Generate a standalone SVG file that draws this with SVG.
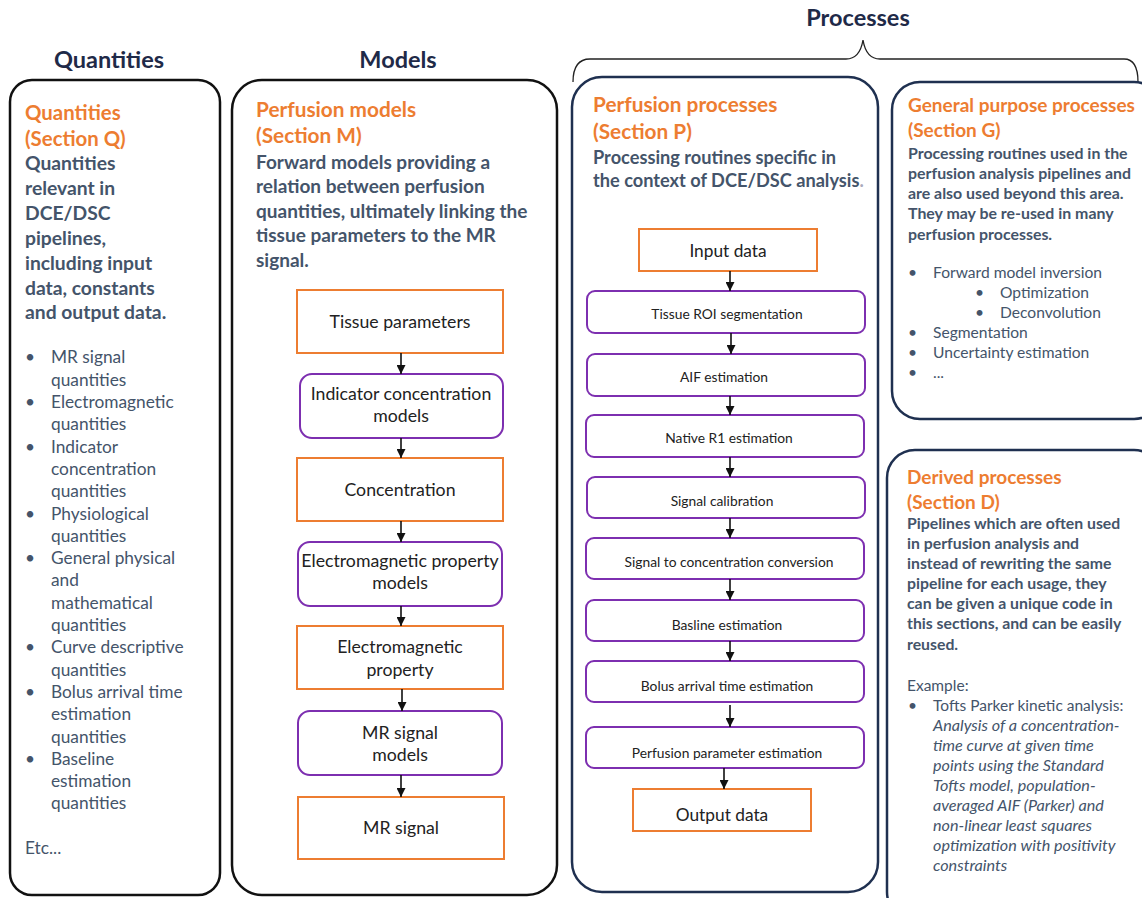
<svg xmlns="http://www.w3.org/2000/svg" width="1142" height="898" viewBox="0 0 1142 898">
<style>
text{font-family:Lato,"Open Sans","Liberation Sans",sans-serif}
.hd{font-size:23.5px;font-weight:bold;fill:#1f2a48;text-anchor:middle}
.or{font-weight:bold;fill:#ed7d31}
.bd{font-weight:bold;fill:#44546a}
.rg{fill:#44546a}
.it{fill:#44546a;font-style:italic}
.nt{fill:#222;text-anchor:middle}
.bk{fill:#fff;stroke:#111;stroke-width:2.5}
.nv{fill:#fff;stroke:#1f3050;stroke-width:2.5}
.on{fill:#fff;stroke:#ed7d31;stroke-width:2}
.pn{fill:#fff;stroke:#7d2fb0;stroke-width:2}
.ar{stroke:#111;stroke-width:1.6;fill:none;marker-end:url(#ah)}
</style>
<defs>
<marker id="ah" viewBox="0 0 10 10" refX="10" refY="5" markerWidth="9" markerHeight="9" markerUnits="userSpaceOnUse" orient="auto"><path d="M0,0L10,5L0,10z" fill="#111"/></marker>
</defs>
<rect width="1142" height="898" fill="#fff"/>

<g id="headers">
<text class="hd" x="109" y="68">Quantities</text>
<text class="hd" x="398" y="68">Models</text>
<text class="hd" x="858" y="26">Processes</text>
<path d="M573,82 C573,68 578,59 590,59 L846,59 C856,59 861,52 863,40 C865,52 870,59 880,59 L1124,59 C1134,59 1138,68 1138,82" fill="none" stroke="#222" stroke-width="1.3"/>
</g>

<g id="quantities">
<rect class="bk" x="10" y="80" width="210" height="815" rx="22"/>
<g font-size="20.4"><text class="or" x="25" y="120">Quantities</text><text class="or" x="25" y="146">(Section Q)</text></g>
<g font-size="19.3" class="bd">
<text x="25" y="170">Quantities</text><text x="25" y="195">relevant in</text><text x="25" y="220">DCE/DSC</text><text x="25" y="245">pipelines,</text><text x="25" y="270">including input</text><text x="25" y="295">data, constants</text><text x="25" y="319">and output data.</text>
</g>
<g font-size="17.3" class="rg">
<text x="25" y="363">•</text><text x="51" y="363">MR signal</text><text x="51" y="386">quantities</text>
<text x="25" y="408">•</text><text x="51" y="408">Electromagnetic</text><text x="51" y="430">quantities</text>
<text x="25" y="453">•</text><text x="51" y="453">Indicator</text><text x="51" y="475">concentration</text><text x="51" y="497">quantities</text>
<text x="25" y="520">•</text><text x="51" y="520">Physiological</text><text x="51" y="542">quantities</text>
<text x="25" y="564">•</text><text x="51" y="564">General physical</text><text x="51" y="586">and</text><text x="51" y="609">mathematical</text><text x="51" y="631">quantities</text>
<text x="25" y="653">•</text><text x="51" y="653">Curve descriptive</text><text x="51" y="676">quantities</text>
<text x="25" y="698">•</text><text x="51" y="698">Bolus arrival time</text><text x="51" y="720">estimation</text><text x="51" y="743">quantities</text>
<text x="25" y="765">•</text><text x="51" y="765">Baseline</text><text x="51" y="787">estimation</text><text x="51" y="809">quantities</text>
<text x="25" y="854">Etc...</text>
</g>
</g>

<g id="models">
<rect class="bk" x="232" y="80" width="325" height="815" rx="30"/>
<g font-size="20.8"><text class="or" x="256" y="117">Perfusion models</text><text class="or" x="256" y="143">(Section M)</text></g>
<g font-size="19" class="bd">
<text x="256" y="169">Forward models providing a</text><text x="256" y="193">relation between perfusion</text><text x="256" y="218">quantities, ultimately linking the</text><text x="256" y="242">tissue parameters to the MR</text><text x="256" y="267">signal.</text>
</g>
</g>

<g id="m-tissue"><rect class="on" x="297" y="290" width="206" height="63"/><text class="nt" font-size="17.7" x="400" y="328">Tissue parameters</text></g>
<g id="m-indicator"><rect class="pn" x="300" y="374" width="203" height="64" rx="12"/><text class="nt" font-size="17.7" x="401" y="400">Indicator concentration</text><text class="nt" font-size="17.7" x="401" y="422">models</text></g>
<g id="m-concentration"><rect class="on" x="297" y="458" width="206" height="63"/><text class="nt" font-size="17.7" x="400" y="496">Concentration</text></g>
<g id="m-emmodels"><rect class="pn" x="298" y="542" width="204" height="64" rx="12"/><text class="nt" font-size="17.7" x="400" y="567">Electromagnetic property</text><text class="nt" font-size="17.7" x="400" y="589">models</text></g>
<g id="m-emprop"><rect class="on" x="297" y="626" width="206" height="63"/><text class="nt" font-size="17.7" x="400" y="653">Electromagnetic</text><text class="nt" font-size="17.7" x="400" y="676">property</text></g>
<g id="m-mrmodels"><rect class="pn" x="298" y="711" width="204" height="64" rx="12"/><text class="nt" font-size="17.7" x="400" y="739">MR signal</text><text class="nt" font-size="17.7" x="400" y="761">models</text></g>
<g id="m-mrsignal"><rect class="on" x="298" y="797" width="206" height="62"/><text class="nt" font-size="17.7" x="401" y="834">MR signal</text></g>

<g id="perfusion-processes">
<rect class="nv" x="572" y="77" width="306" height="815" rx="30"/>
<g font-size="20.8"><text class="or" x="593" y="112">Perfusion processes</text><text class="or" x="593" y="139">(Section P)</text></g>
<g font-size="18.2" class="bd"><text x="593" y="164">Processing routines specific in</text><text x="593" y="187">the context of DCE/DSC analysis<tspan fill="#aab">.</tspan></text></g>
</g>

<g id="p-input"><rect class="on" x="639" y="229" width="178" height="42"/><text class="nt" font-size="17.3" x="728" y="257">Input data</text></g>
<g id="p-roi"><rect class="pn" x="587" y="291" width="278" height="42" rx="8"/><text class="nt" font-size="13.8" x="727" y="319">Tissue ROI segmentation</text></g>
<g id="p-aif"><rect class="pn" x="587" y="354" width="278" height="42" rx="8"/><text class="nt" font-size="13.8" x="724" y="382">AIF estimation</text></g>
<g id="p-r1"><rect class="pn" x="586" y="415" width="278" height="42" rx="8"/><text class="nt" font-size="13.8" x="729" y="443">Native R1 estimation</text></g>
<g id="p-cal"><rect class="pn" x="587" y="477" width="278" height="41" rx="8"/><text class="nt" font-size="13.8" x="722" y="506">Signal calibration</text></g>
<g id="p-conv"><rect class="pn" x="586" y="538" width="278" height="41" rx="8"/><text class="nt" font-size="13.8" x="729" y="567">Signal to concentration  conversion</text></g>
<g id="p-base"><rect class="pn" x="586" y="600" width="278" height="41" rx="8"/><text class="nt" font-size="13.8" x="727" y="630">Basline estimation</text></g>
<g id="p-bolus"><rect class="pn" x="586" y="661" width="278" height="41" rx="8"/><text class="nt" font-size="13.8" x="727" y="691">Bolus arrival time estimation</text></g>
<g id="p-param"><rect class="pn" x="586" y="727" width="278" height="41" rx="8"/><text class="nt" font-size="13.8" x="727" y="758">Perfusion parameter estimation</text></g>
<g id="p-output"><rect class="on" x="633" y="789" width="178" height="42"/><text class="nt" font-size="17.3" x="722" y="821">Output data</text></g>

<g id="general-processes">
<rect class="nv" x="892" y="82" width="270" height="337" rx="28"/>
<g font-size="19"><text class="or" x="908" y="112">General purpose processes</text><text class="or" x="908" y="137">(Section G)</text></g>
<g font-size="15.9" class="bd"><text x="908" y="159">Processing routines used in the</text><text x="908" y="179">perfusion analysis pipelines and</text><text x="908" y="199">are also used beyond this area.</text><text x="908" y="219">They may be re-used in many</text><text x="908" y="240">perfusion processes.</text></g>
<g font-size="15.6" class="rg">
<text x="908" y="278">•</text><text x="933" y="278">Forward model inversion</text>
<text x="975" y="298">•</text><text x="1000" y="298">Optimization</text>
<text x="975" y="318">•</text><text x="1000" y="318">Deconvolution</text>
<text x="908" y="338">•</text><text x="933" y="338">Segmentation</text>
<text x="908" y="358">•</text><text x="933" y="358">Uncertainty estimation</text>
<text x="908" y="378">•</text><text x="933" y="378">...</text>
</g>
</g>

<g id="derived-processes">
<rect class="nv" x="887" y="450" width="275" height="470" rx="28"/>
<g font-size="19"><text class="or" x="907" y="484">Derived processes</text><text class="or" x="907" y="509">(Section D)</text></g>
<g font-size="15.8" class="bd"><text x="907" y="529">Pipelines which are often used</text><text x="907" y="549">in perfusion analysis and</text><text x="907" y="569">instead of rewriting the same</text><text x="907" y="589">pipeline for each usage, they</text><text x="907" y="609">can be given a unique code in</text><text x="907" y="629">this sections, and can be easily</text><text x="907" y="650">reused.</text></g>
<g font-size="15.5"><text class="rg" x="907" y="691">Example:</text>
<text class="rg" x="908" y="711">•</text><text class="rg" x="933" y="711">Tofts Parker kinetic analysis:</text></g>
<g font-size="16.2"><text class="it" x="933" y="731">Analysis of a concentration-</text><text class="it" x="933" y="751">time curve at given time</text><text class="it" x="933" y="771">points using the Standard</text><text class="it" x="933" y="791">Tofts model, population-</text><text class="it" x="933" y="811">averaged AIF (Parker) and</text><text class="it" x="933" y="831">non-linear least squares</text><text class="it" x="933" y="851">optimization with positivity</text><text class="it" x="933" y="871">constraints</text></g>
</g>

<g id="connectors">
<line class="ar" x1="401" y1="353" x2="401" y2="374"/>
<line class="ar" x1="401" y1="438" x2="401" y2="458"/>
<line class="ar" x1="401" y1="521" x2="401" y2="542"/>
<line class="ar" x1="401" y1="606" x2="401" y2="626"/>
<line class="ar" x1="402" y1="689" x2="402" y2="711"/>
<line class="ar" x1="401" y1="775" x2="401" y2="797"/>
<line class="ar" x1="730" y1="271" x2="730" y2="291"/>
<line class="ar" x1="731" y1="333" x2="731" y2="354"/>
<line class="ar" x1="730" y1="396" x2="730" y2="415"/>
<line class="ar" x1="730" y1="457" x2="730" y2="477"/>
<line class="ar" x1="730" y1="518" x2="730" y2="538"/>
<line class="ar" x1="730" y1="579" x2="730" y2="600"/>
<line class="ar" x1="730" y1="641" x2="730" y2="661"/>
<line class="ar" x1="730" y1="705" x2="730" y2="727"/>
<line class="ar" x1="724" y1="768" x2="724" y2="789"/>
</g>
</svg>
